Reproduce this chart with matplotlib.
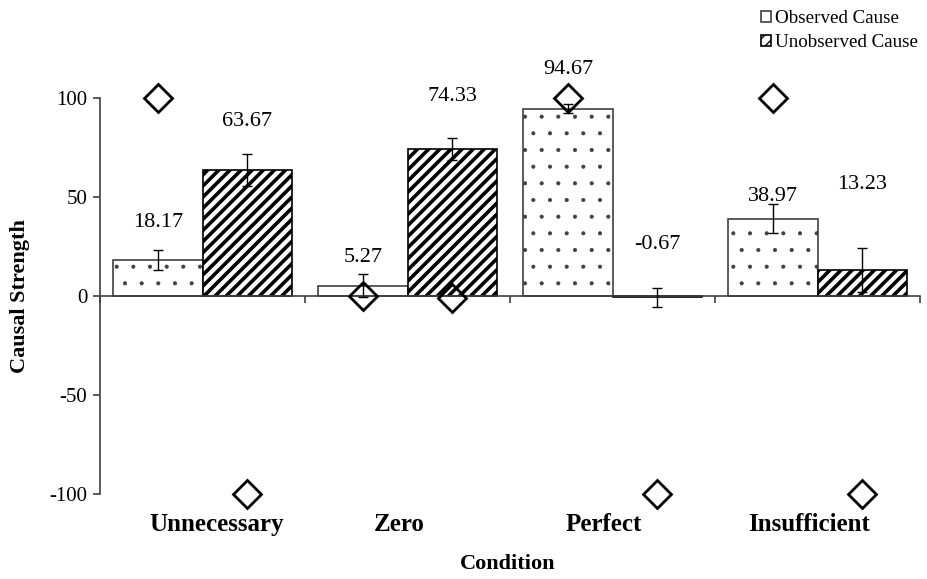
import matplotlib
matplotlib.use("Agg")
import matplotlib.pyplot as plt
import numpy as np

plt.rcParams['font.family'] = ['Liberation Serif', 'DejaVu Serif']

# Data
conditions = ["Unnecessary", "Zero", "Perfect", "Insufficient"]
observed = [18.17, 5.27, 94.67, 38.97]
unobserved = [63.67, 74.33, -0.67, 13.23]
observed_err = [5.1, 5.6, 2.4, 7.3]
unobserved_err = [8.2, 5.4, 4.7, 11.1]
predicted_observed = [100, 0, 100, 100]
predicted_unobserved = [-100, -1, -100, -100]

# Layout helpers (vertical lift of each value label above its value, in data units)
obs_label_lift = [19.2, 14.4, 19.9, 11.5]
unobs_label_lift = [24.7, 26.2, 26.5, 42.9]
cat_label_shift = [0.068, -0.041, -0.041, -0.041]

edge = '#404040'
fig = plt.figure(figsize=(9.27, 5.79), dpi=100)
ax = fig.add_axes([100 / 927, 85 / 579, 820 / 927, 396 / 579])

n = len(conditions)
centers = np.arange(n) + 0.5
w = 0.435
x_obs = centers - w / 2
x_unobs = centers + w / 2


def set_hatch_lw(container, lw):
    for p in container:
        if hasattr(p, 'set_hatch_linewidth'):
            p.set_hatch_linewidth(lw)


with plt.rc_context({'hatch.linewidth': 0.5, 'hatch.color': 'black'}):
    b1 = ax.bar(x_obs, observed, width=w, color='white', edgecolor=edge,
                linewidth=1.2, hatch='.', label='Observed Cause', zorder=2)
    set_hatch_lw(b1, 0.5)
with plt.rc_context({'hatch.linewidth': 2.6, 'hatch.color': 'black'}):
    b2 = ax.bar(x_unobs, unobserved, width=w, color='white', edgecolor='black',
                linewidth=1.2, hatch='///', label='Unobserved Cause', zorder=2)
    set_hatch_lw(b2, 2.6)

ax.errorbar(x_obs, observed, yerr=observed_err, fmt='none', ecolor='black',
            elinewidth=1.0, capsize=3.3, capthick=1.0, zorder=3)
ax.errorbar(x_unobs, unobserved, yerr=unobserved_err, fmt='none', ecolor='black',
            elinewidth=1.0, capsize=3.3, capthick=1.0, zorder=3)

ax.plot(x_obs, predicted_observed, linestyle='none', marker='D', markersize=14,
        markerfacecolor='none', markeredgecolor='black', markeredgewidth=2,
        clip_on=False, zorder=4)
ax.plot(x_unobs, predicted_unobserved, linestyle='none', marker='D', markersize=14,
        markerfacecolor='none', markeredgecolor='black', markeredgewidth=2,
        clip_on=False, zorder=4)

for x, v, lift in zip(x_obs, observed, obs_label_lift):
    ax.text(x, v + lift, f"{v:.2f}", ha='center', va='center', fontsize=16,
            clip_on=False, zorder=5)
for x, v, lift in zip(x_unobs, unobserved, unobs_label_lift):
    ax.text(x, v + lift, f"{v:.2f}", ha='center', va='center', fontsize=16,
            clip_on=False, zorder=5)

ax.set_xlim(0, n)
ax.set_ylim(-100, 100)
ax.set_yticks([-100, -50, 0, 50, 100])
ax.set_yticklabels(['-100', '-50', '0', '50', '100'], fontsize=15)
ax.set_xticks(np.arange(n + 1))
ax.set_xticklabels([])

for s in ['top', 'right']:
    ax.spines[s].set_visible(False)
ax.spines['left'].set_color('#404040')
ax.spines['left'].set_linewidth(1.2)
ax.spines['bottom'].set_position(('data', 0))
ax.spines['bottom'].set_color('#404040')
ax.spines['bottom'].set_linewidth(1.2)
ax.tick_params(axis='both', direction='out', length=5, width=1.2, color='#404040')
ax.tick_params(axis='y', pad=4)

for i, (name, sh) in enumerate(zip(conditions, cat_label_shift)):
    ax.text(centers[i] + sh, -115.2, name, ha='center', va='center',
            fontsize=18, fontweight='bold', clip_on=False)

fig.text(508 / 927, 1 - 564 / 579, 'Condition', ha='center', va='center',
         fontsize=16, fontweight='bold')
fig.text(20 / 927, 1 - 296 / 579, 'Causal Strength', ha='center', va='center',
         rotation=90, fontsize=16, fontweight='bold')

leg = fig.legend(handles=[b1, b2], loc='upper left',
                 bbox_to_anchor=(748 / 927, 1 + 3 / 579), frameon=False,
                 fontsize=13.7, handlelength=0.5, handleheight=0.5,
                 handletextpad=0.2, labelspacing=0.35, borderpad=0.2)

fig.savefig('out.png', dpi=100)
